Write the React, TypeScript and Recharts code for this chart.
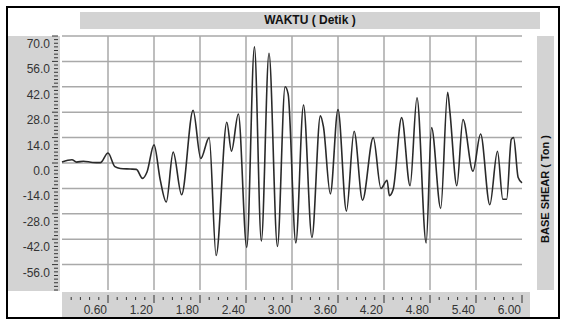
import { LineChart, Line, CartesianGrid, XAxis, YAxis } from 'recharts';

// time (s) and base shear (ton)
const waktu = [
  0, 0.13, 0.19, 0.28, 0.4, 0.5, 0.6, 0.69, 0.76, 0.89, 0.97, 1.05, 1.11, 1.2, 1.28, 1.36,
  1.45, 1.56, 1.71, 1.81, 1.92, 2.01, 2.15, 2.21, 2.3, 2.41, 2.51, 2.6, 2.7, 2.81, 2.91, 2.95,
  3.05, 3.15, 3.26, 3.37, 3.41, 3.5, 3.6, 3.71, 3.81, 3.92, 4.06, 4.16, 4.24, 4.27, 4.32, 4.43,
  4.54, 4.63, 4.75, 4.82, 4.94, 5.03, 5.06, 5.15, 5.23, 5.36, 5.46, 5.58, 5.68, 5.75, 5.8, 5.86,
  5.89, 5.95, 6.0,
];
const baseShear = [
  0.5, 1.8, 0.5, 1.0, 0.3, 0.2, 5.5, -2, -3, -3.3, -3.5, -8.5, -4.8, 10, -9, -21.5,
  6, -17.5, 29, 2.5, 14, -51, 22.5, 6.5, 27, -46.5, 64, -43, 60.5, -46, 42, 38,
  -44, 32, -41, 26, 20, -17, 29.5, -26.5, 17.5, -20.5, 14, -14, -9.5, -18, -14.5, 25,
  -12.5, 36, -44, 19.5, -25, 39, 28, -12.5, 24, -4.5, 16, -23, 6.5, -20, -20, 13,
  14, -8, -11,
];

const xMajorTicks = [0.6, 1.2, 1.8, 2.4, 3.0, 3.6, 4.2, 4.8, 5.4, 6.0];
const yMajorTicks = [70, 56, 42, 28, 14, 0, -14, -28, -42, -56];
const xGridTicks = [0.6, 1.2, 1.8, 2.4, 3.0, 3.6, 4.2, 4.8, 5.4];
const yGridTicks = [-56, -42, -28, -14, 0, 14, 28, 42, 56, 70];

const xMinorTicks: number[] = [];
for (let i = 1; i <= 50; i++) xMinorTicks.push(+(i * 0.12).toFixed(2));
const yMinorTicks: number[] = [];
for (let i = -35; i <= 35; i++) yMinorTicks.push(i * 2);

const data = waktu.map((t, i) => ({ t, v: baseShear[i] }));

const isMajor = (list: number[], v: number) => list.some((m) => Math.abs(m - v) < 1e-6);

const labelStyle = { fontFamily: '"Liberation Sans", Arial, sans-serif', fontSize: 12, fill: '#333' };

const XTick = (props: any) => {
  const { x, y, payload } = props;
  const major = isMajor(xMajorTicks, payload.value);
  return (
    <g>
      <line x1={x} x2={x} y1={y + (major ? 5 : 7)} y2={y + (major ? 13 : 10)} stroke="#333" strokeWidth={1} />
      {major && (
        <text x={x - 1} y={y + 20} textAnchor="end" dominantBaseline="central" {...labelStyle}>
          {payload.value.toFixed(2)}
        </text>
      )}
    </g>
  );
};

const YTick = (props: any) => {
  const { x, y, payload } = props;
  const major = isMajor(yMajorTicks, payload.value);
  return (
    <g>
      <line x1={x - (major ? 10 : 8)} x2={x - 4} y1={y} y2={y} stroke="#333" strokeWidth={1} />
      {major && (
        <text x={x - 12} y={y + 8} textAnchor="end" dominantBaseline="central" {...labelStyle}>
          {payload.value.toFixed(1)}
        </text>
      )}
    </g>
  );
};

const band = '#d3d3d3';

export default function App() {
  return (
    <div style={{ position: 'absolute', left: 0, top: 0, width: 564, height: 323, background: '#fff' }}>
      <div style={{ position: 'absolute', left: 6, top: 6, width: 554, height: 313, border: '2px solid #000', boxSizing: 'border-box' }} />
      <div
        style={{
          position: 'absolute', left: 80, top: 12, width: 460, height: 17, background: band,
          fontFamily: '"Liberation Sans", Arial, sans-serif', fontWeight: 'bold', fontSize: 12,
          lineHeight: '17px', textAlign: 'center', color: '#111',
        }}
      >
        WAKTU ( Detik )
      </div>
      <div style={{ position: 'absolute', left: 8, top: 36, width: 52, height: 255, background: band }} />
      <div style={{ position: 'absolute', left: 62, top: 292, width: 468, height: 25, background: band }} />
      <div style={{ position: 'absolute', left: 537, top: 36, width: 17, height: 254, background: band }}>
        <div
          style={{
            position: 'absolute', left: 8, top: 153, width: 200, marginLeft: -100, textAlign: 'center',
            transform: 'translateY(-50%) rotate(-90deg)', fontFamily: '"Liberation Sans", Arial, sans-serif',
            fontWeight: 'bold', fontSize: 11, color: '#111', whiteSpace: 'nowrap', lineHeight: '13px',
          }}
        >
          BASE SHEAR ( Ton )
        </div>
      </div>
      <div style={{ position: 'absolute', left: 0, top: 0 }}>
        <LineChart width={564} height={323} data={data} margin={{ top: 36, right: 42, bottom: 6, left: 8 }}>
          <CartesianGrid
            stroke="#a9a9a9"
            strokeWidth={1.5}
            horizontalValues={yGridTicks}
            verticalValues={xGridTicks}
          />
          <XAxis
            dataKey="t"
            type="number"
            domain={[0, 6]}
            ticks={xMinorTicks}
            interval={0}
            height={27}
            tickSize={0}
            tickMargin={0}
            axisLine={false}
            tickLine={false}
            tick={<XTick />}
          />
          <YAxis
            type="number"
            domain={[-70, 70]}
            ticks={yMinorTicks}
            interval={0}
            width={54}
            tickSize={0}
            tickMargin={0}
            axisLine={false}
            tickLine={false}
            tick={<YTick />}
          />
          <Line
            type="monotone"
            dataKey="v"
            stroke="#2a2a2a"
            strokeWidth={1.6}
            dot={false}
            isAnimationActive={false}
          />
        </LineChart>
      </div>
    </div>
  );
}
